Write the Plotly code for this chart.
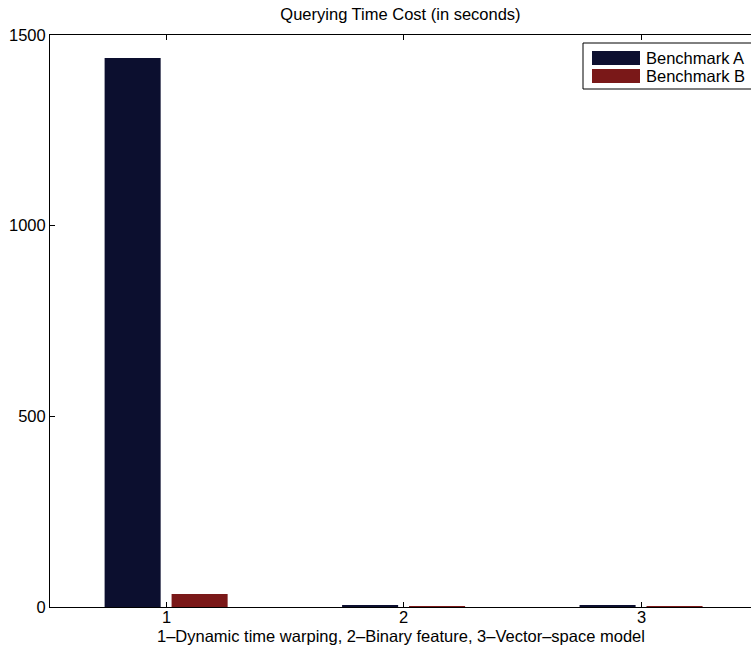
import plotly.graph_objects as go

categories = [1, 2, 3]
tick_labels = ["1", "2", "3"]
series_names = ["Benchmark A", "Benchmark B"]
bench_a = [1440, 3, 4]
bench_b = [34, 0.8, 1]
colors = ["#0c0f2f", "#7a1818"]
x_title = "1\u2013Dynamic time warping, 2\u2013Binary feature, 3\u2013Vector\u2013space model"

fig = go.Figure()
for name, vals, col in zip(series_names, [bench_a, bench_b], colors):
    fig.add_trace(go.Bar(x=categories, y=vals, name=name, marker=dict(color=col, line=dict(width=0)),
                         showlegend=False))

FS = 16.5
font = dict(family="Liberation Sans, Arial, Helvetica, sans-serif", size=FS, color="black")

fig.update_layout(
    width=751, height=656,
    margin=dict(l=50, r=0, t=35, b=49),
    paper_bgcolor="white", plot_bgcolor="white",
    barmode="group", bargap=0.436, bargroupgap=0.163,
    font=font,
    title=dict(text="Querying Time Cost (in seconds)", x=0.5, xref="paper", xanchor="center",
               y=1 - 14 / 656, yref="container", yanchor="middle", font=dict(size=FS)),
    xaxis=dict(range=[0.511, 3.463], tickvals=categories, showticklabels=False,
               ticks="inside", ticklen=5, tickcolor="black", showline=True, linecolor="black", linewidth=1,
               mirror="ticks", showgrid=False, zeroline=False),
    yaxis=dict(range=[0, 1500], tickvals=[0, 500, 1000, 1500], ticks="inside", ticklen=5, tickcolor="black",
               showline=True, linecolor="black", linewidth=1, mirror=False, showgrid=False, zeroline=False),
)

# x tick labels placed on the category positions of the x axis
for c, t in zip(categories, tick_labels):
    fig.add_annotation(text=t, xref="x", yref="paper", x=c, y=0, yshift=-10,
                       xanchor="center", yanchor="middle", showarrow=False, font=dict(size=FS))

fig.add_annotation(text=x_title, xref="paper", yref="paper", x=0.5, y=0, yshift=-29,
                   xanchor="center", yanchor="middle", showarrow=False, font=dict(size=FS))

# Legend box drawn manually (MATLAB style wide swatches)
lx0, ly0 = (583 - 50) / 701, 1 - (43 - 35) / 572
lx1, ly1 = 1.01, 1 - (89 - 35) / 572
fig.add_shape(type="rect", xref="paper", yref="paper", x0=lx0, x1=lx1, y0=ly1, y1=ly0,
              line=dict(color="black", width=1), fillcolor="white", layer="above")
for i, (name, col) in enumerate(zip(series_names, colors)):
    cy = 58 + i * 18
    fig.add_shape(type="rect", xref="paper", yref="paper",
                  x0=(592 - 50) / 701, x1=(640 - 50) / 701,
                  y0=1 - (cy + 7 - 35) / 572, y1=1 - (cy - 7 - 35) / 572,
                  line=dict(width=0), fillcolor=col, layer="above")
    fig.add_annotation(text=name, xref="paper", yref="paper", x=(644 - 50) / 701, y=1 - (cy - 35) / 572,
                       xanchor="left", yanchor="middle", showarrow=False, font=dict(size=FS))

fig.write_html("out.html", config={"displayModeBar": False},
               post_script="document.body.style.margin='0';document.body.style.overflow='hidden';")
